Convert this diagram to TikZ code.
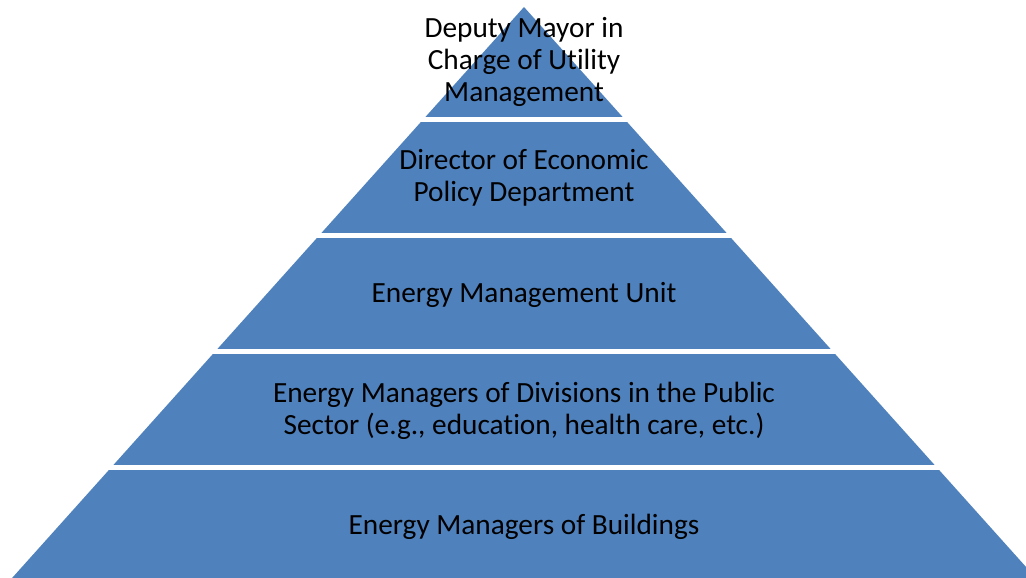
\documentclass[tikz,border=0pt]{standalone}
\usepackage{fontspec}
\setmainfont[Ligatures={NoCommon}]{Carlito}
\definecolor{tierblue}{HTML}{4F81BD}
\tikzset{
  tiertext/.style={align=center, text=black, inner sep=0pt, font=\fontsize{29.3}{32}\selectfont},
  gapline/.style={white, line width=5pt}
}
\begin{document}
\begin{tikzpicture}[x=1pt,y=-1pt]
\useasboundingbox (0,0) rectangle (1026,578);
\begin{scope}
\clip (0,0) rectangle (1026,578);
\fill[tierblue] (524,7) -- (1044,587) -- (4,587) -- cycle;
\foreach \yy in {119.5,235.5,351.5,467.5}
  \draw[gapline] (0,\yy) -- (1026,\yy);
\end{scope}
\node[tiertext] (t1) at (524,62) {Deputy Mayor in\\Charge of Utility\\Management};
\node[tiertext] (t2) at (524,178) {Director of Economic\\Policy Department};
\node[tiertext] (t3) at (524,295) {Energy Management Unit};
\node[tiertext] (t4) at (524,411) {Energy Managers of Divisions in the Public\\Sector (e.g., education, health care, etc.)};
\node[tiertext] (t5) at (524,527) {Energy Managers of Buildings};
\end{tikzpicture}
\end{document}
